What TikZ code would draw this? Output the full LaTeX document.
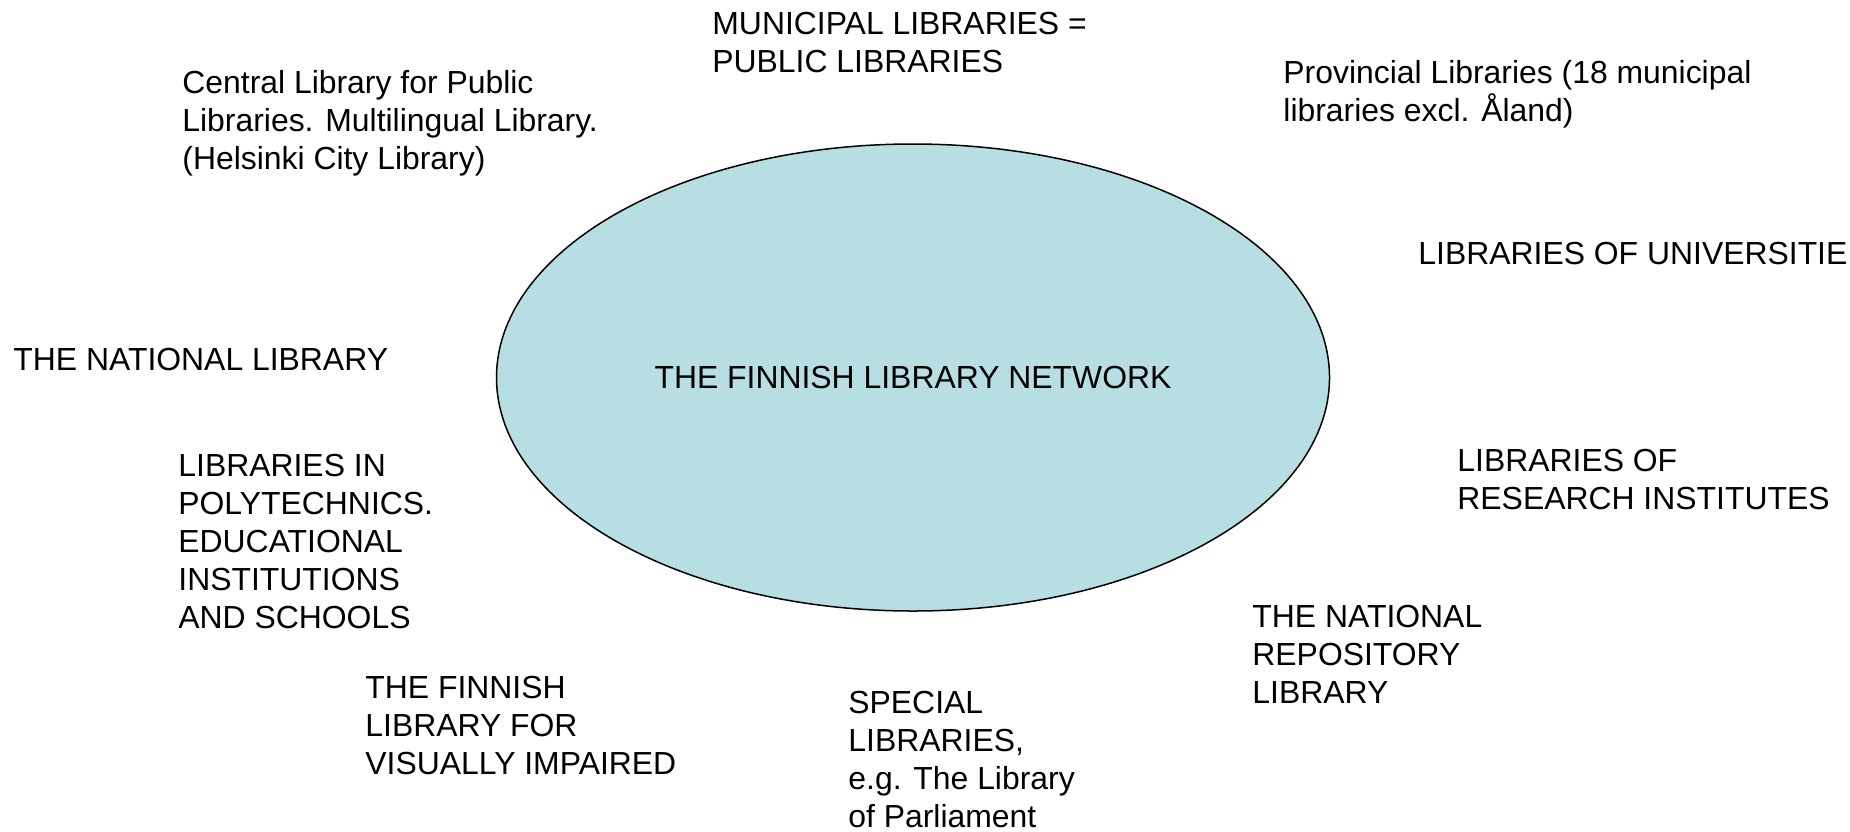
\documentclass[tikz,border=0pt]{standalone}
\usepackage{fontspec}
\setmainfont{Liberation Sans}
\usepackage{xcolor}
\usepackage{tikz}
\usetikzlibrary{shapes.geometric}
\definecolor{netblue}{RGB}{183,222,226}
% base west of a text with several lines is the baseline of its last line
\tikzset{lib/.style={anchor=base west, align=left, inner sep=0pt, font=\fontsize{15.95}{19}\selectfont}}

\begin{document}
\begin{tikzpicture}[x=0.5pt,y=-0.5pt]
\useasboundingbox (0,0) rectangle (1850,831);
% the network in the middle
\node[ellipse, draw, line width=0.75pt, fill=netblue, minimum width=416.5pt, minimum height=233.5pt, inner sep=0pt, font=\fontsize{15.95}{19}\selectfont] (net) at (913,377.5) {THE FINNISH LIBRARY NETWORK};
% the libraries round it
\node[lib] (munic) at (712,72) {MUNICIPAL LIBRARIES =\\PUBLIC LIBRARIES};
\node[lib] (central) at (182,169.5) {Central Library for Public\\Libraries. Multilingual Library.\\(Helsinki City Library)};
\node[lib] (provin) at (1283,121) {Provincial Libraries (18 municipal\\libraries excl. Åland)};
\node[lib] (univ) at (1418,264.5) {LIBRARIES OF UNIVERSITIE};
\node[lib] (natlib) at (13,370) {THE NATIONAL LIBRARY};
\node[lib] (poly) at (178,628) {LIBRARIES IN\\POLYTECHNICS.\\EDUCATIONAL\\INSTITUTIONS\\AND SCHOOLS};
\node[lib] (visual) at (365,774) {THE FINNISH\\LIBRARY FOR\\VISUALLY IMPAIRED};
\node[lib] (special) at (848,827) {SPECIAL\\LIBRARIES,\\e.g. The Library\\of Parliament};
\node[lib] (repos) at (1252,703) {THE NATIONAL\\REPOSITORY\\LIBRARY};
\node[lib] (research) at (1457,509) {LIBRARIES OF\\RESEARCH INSTITUTES};
\end{tikzpicture}
\end{document}
